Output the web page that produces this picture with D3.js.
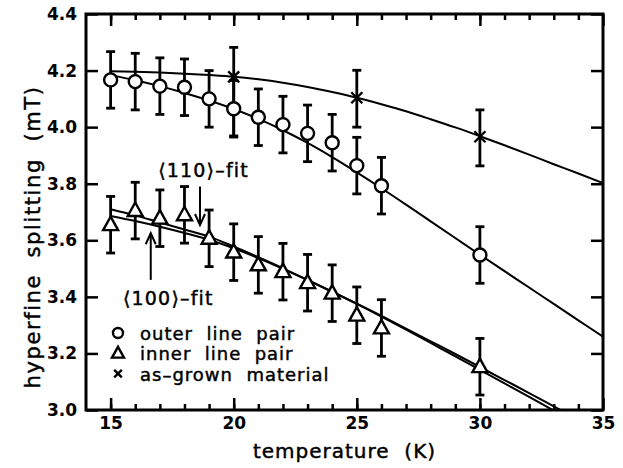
<!DOCTYPE html>
<html>
<head>
<meta charset="utf-8">
<script src="https://cdn.jsdelivr.net/npm/d3@7"></script>
<style>
  body { margin: 0; background: #fff; }
  svg { display: block; }
  text { font-family: "DejaVu Sans", sans-serif; fill: #000; }
  .tick text { font-weight: bold; font-size: 17px; }
  .title, .ytitle, .note, .legendText { stroke: #000; stroke-width: 0.45px; white-space: pre; }
  .title { font-size: 20px; letter-spacing: 1px; }
  .ytitle { font-size: 21px; letter-spacing: 1.6px; }
  .note { font-size: 19px; letter-spacing: 1.2px; }
  .legendText { font-size: 18px; letter-spacing: 1px; }
</style>
</head>
<body>
<div id="container"></div>
<script>
// measured points
var temps = [15, 16, 17, 18, 19, 20, 21, 22, 23, 24, 25, 26, 30];
var outerPair = [4.167, 4.161, 4.145, 4.141, 4.100, 4.065, 4.035, 4.009, 3.978, 3.945, 3.864, 3.793, 3.548];
var outerErr = [0.1, 0.1, 0.1, 0.1, 0.1, 0.1, 0.1, 0.1, 0.1, 0.1, 0.1, 0.1, 0.1];
var innerPair = [3.655, 3.705, 3.678, 3.690, 3.607, 3.558, 3.513, 3.489, 3.450, 3.413, 3.335, 3.290, 3.153];
var innerErr = [0.1, 0.1, 0.1, 0.1, 0.1, 0.1, 0.1, 0.1, 0.1, 0.1, 0.1, 0.1, 0.1];
var grownTemps = [20, 25, 30];
var asGrown = [4.178, 4.104, 3.966];
var asGrownHi = [4.282, 4.201, 4.061];
var asGrownLo = [3.969, 4.000, 3.863];

var fitTemps = [15, 16, 17, 18, 19, 20, 21, 22, 23, 24, 25, 26, 27, 28, 29, 30, 31, 32, 33, 34, 35];
var outerFit = [4.184, 4.166, 4.145, 4.121, 4.094, 4.064, 4.029, 3.989, 3.944, 3.894, 3.840, 3.784, 3.726, 3.667, 3.608, 3.549, 3.491, 3.433, 3.375, 3.317, 3.259];
var grownFit = [4.198, 4.196, 4.193, 4.189, 4.184, 4.178, 4.169, 4.157, 4.142, 4.124, 4.104, 4.081, 4.056, 4.028, 3.999, 3.968, 3.936, 3.903, 3.869, 3.836, 3.802];
var fit110 = [3.710, 3.688, 3.663, 3.638, 3.613, 3.578, 3.540, 3.501, 3.460, 3.418, 3.375, 3.330, 3.284, 3.237, 3.190, 3.142, 3.094, 3.046, 2.998, 2.950, 2.902];
var fit100 = [3.686, 3.668, 3.648, 3.626, 3.602, 3.572, 3.537, 3.499, 3.459, 3.418, 3.376, 3.333, 3.288, 3.243, 3.198, 3.152, 3.106, 3.060, 3.013, 2.966, 2.919];

var xTicks = [15, 20, 25, 30, 35];
var yTicks = [3.0, 3.2, 3.4, 3.6, 3.8, 4.0, 4.2, 4.4];
var legendLabels = ["outer  line  pair", "inner  line  pair", "as\u2013grown  material"];

var W = 623, H = 468;
var pL = 86, pR = 603, pT = 14, pB = 410;

var x = d3.scaleLinear().domain([14, 35]).range([pL, pR]);
var y = d3.scaleLinear().domain([3.0, 4.4]).range([pB, pT]);

var svg = d3.select("#container").append("svg")
  .attr("width", W).attr("height", H);

svg.append("clipPath").attr("id", "plot")
  .append("rect").attr("x", pL).attr("y", pT)
  .attr("width", pR - pL).attr("height", pB - pT);

var minor = d3.range(15, 35);

// axes, ticks point inwards
function styleAxis(g) {
  g.select(".domain").remove();
  g.selectAll(".tick line").attr("stroke", "#000").attr("stroke-width", 2.5);
}
svg.append("g").attr("transform", "translate(0," + pB + ")")
  .call(d3.axisBottom(x).tickValues(xTicks).tickSizeInner(-12).tickPadding(7).tickFormat(d3.format("d")))
  .call(styleAxis);
svg.append("g").attr("transform", "translate(0," + pB + ")")
  .call(d3.axisBottom(x).tickValues(minor).tickSizeInner(-6).tickFormat(""))
  .call(styleAxis);
svg.append("g").attr("transform", "translate(0," + pT + ")")
  .call(d3.axisTop(x).tickValues(xTicks).tickSizeInner(-12).tickFormat(""))
  .call(styleAxis);
svg.append("g").attr("transform", "translate(0," + pT + ")")
  .call(d3.axisTop(x).tickValues(minor).tickSizeInner(-6).tickFormat(""))
  .call(styleAxis);
svg.append("g").attr("transform", "translate(" + pL + ",0)")
  .call(d3.axisLeft(y).tickValues(yTicks).tickSizeInner(-12).tickPadding(9).tickFormat(d3.format(".1f")))
  .call(styleAxis);
svg.append("g").attr("transform", "translate(" + pR + ",0)")
  .call(d3.axisRight(y).tickValues(yTicks).tickSizeInner(-12).tickFormat(""))
  .call(styleAxis);
svg.selectAll(".tick text").attr("font-family", null).attr("font-size", null);

svg.append("rect")
  .attr("x", pL).attr("y", pT)
  .attr("width", pR - pL).attr("height", pB - pT)
  .attr("fill", "none").attr("stroke", "#000").attr("stroke-width", 3);

// fit curves
var line = d3.line()
  .x(function(d) { return x(d[0]); })
  .y(function(d) { return y(d[1]); })
  .curve(d3.curveMonotoneX);
var fits = [outerFit, grownFit, fit110, fit100];
svg.append("g").attr("clip-path", "url(#plot)")
  .selectAll("path").data(fits).enter().append("path")
  .attr("d", function(f) { return line(fitTemps.map(function(t, i) { return [t, f[i]]; })); })
  .attr("fill", "none").attr("stroke", "#000").attr("stroke-width", 2);

// error bars
function errorBars(ts, lo, hi) {
  var g = svg.append("g").attr("stroke", "#000").attr("stroke-width", 2.8);
  ts.forEach(function(t, i) {
    var cx = x(t);
    g.append("line").attr("x1", cx).attr("x2", cx).attr("y1", y(lo[i])).attr("y2", y(hi[i]));
    g.append("line").attr("x1", cx - 4.5).attr("x2", cx + 4.5).attr("y1", y(lo[i])).attr("y2", y(lo[i]));
    g.append("line").attr("x1", cx - 4.5).attr("x2", cx + 4.5).attr("y1", y(hi[i])).attr("y2", y(hi[i]));
  });
}
errorBars(temps, outerPair.map(function(v, i) { return v - outerErr[i]; }), outerPair.map(function(v, i) { return v + outerErr[i]; }));
errorBars(temps, innerPair.map(function(v, i) { return v - innerErr[i]; }), innerPair.map(function(v, i) { return v + innerErr[i]; }));
errorBars(grownTemps, asGrownLo, asGrownHi);

// markers
function circleAt(g, cx, cy, r) {
  g.append("circle").attr("cx", cx).attr("cy", cy).attr("r", r)
    .attr("fill", "#fff").attr("stroke", "#000").attr("stroke-width", 2.4);
}
function triAt(g, cx, cy, s) {
  var h = s * 0.9;
  g.append("path")
    .attr("d", "M" + cx + "," + (cy - h * 0.6) + "L" + (cx + s / 2) + "," + (cy + h * 0.4) + "L" + (cx - s / 2) + "," + (cy + h * 0.4) + "Z")
    .attr("fill", "#fff").attr("stroke", "#000").attr("stroke-width", 2.4).attr("stroke-linejoin", "miter");
}
function crossAt(g, cx, cy, s) {
  g.append("path")
    .attr("d", "M" + (cx - s) + "," + (cy - s) + "L" + (cx + s) + "," + (cy + s) + "M" + (cx - s) + "," + (cy + s) + "L" + (cx + s) + "," + (cy - s))
    .attr("stroke", "#000").attr("stroke-width", 2.4);
}
var marks = svg.append("g");
temps.forEach(function(t, i) { circleAt(marks, x(t), y(outerPair[i]), 6.5); });
temps.forEach(function(t, i) { triAt(marks, x(t), y(innerPair[i]), 15); });
grownTemps.forEach(function(t, i) { crossAt(marks, x(t), y(asGrown[i]), 5.5); });

// fit annotations
function arrow(t, v0, v1) {
  var g = svg.append("g").attr("stroke", "#000").attr("stroke-width", 2).attr("fill", "none");
  var x0 = x(t), y0 = y(v0), y1 = y(v1);
  var dir = y1 > y0 ? -1 : 1;
  g.append("line").attr("x1", x0).attr("x2", x0).attr("y1", y0).attr("y2", y1);
  g.append("path").attr("d", "M" + (x0 - 5) + "," + (y1 + dir * 11) + "L" + x0 + "," + y1 + "L" + (x0 + 5) + "," + (y1 + dir * 11));
}
arrow(18.63, 3.79, 3.654);
arrow(16.63, 3.46, 3.625);
svg.append("text").attr("class", "note").attr("x", x(16.93)).attr("y", y(3.825)).text("\u27E8110\u27E9\u2013fit");
svg.append("text").attr("class", "note").attr("x", x(15.5)).attr("y", y(3.371)).text("\u27E8100\u27E9\u2013fit");

// legend
var legend = svg.append("g").attr("transform", "translate(118,333)");
var legendItem = legend.selectAll(".legendItem")
  .data(legendLabels).enter().append("g")
  .attr("class", "legendItem")
  .attr("transform", function(d, i) { return "translate(0," + i * 20.3 + ")"; });
legendItem.each(function(d, i) {
  var g = d3.select(this);
  if (i == 0) circleAt(g, 0, 0, 5);
  if (i == 1) triAt(g, 0, 0, 12);
  if (i == 2) crossAt(g, 0, 0, 3.8);
});
legendItem.append("text").attr("class", "legendText")
  .attr("x", 22).attr("y", 7).text(function(d) { return d; });

// axis titles
svg.append("text").attr("class", "title")
  .attr("x", (pL + pR) / 2).attr("y", 458).attr("text-anchor", "middle")
  .text("temperature  (K)");
svg.append("text").attr("class", "ytitle")
  .attr("transform", "translate(40," + 237 + ") rotate(-90)").attr("text-anchor", "middle")
  .text("hyperfine  splitting  (mT)");
</script>
</body>
</html>
